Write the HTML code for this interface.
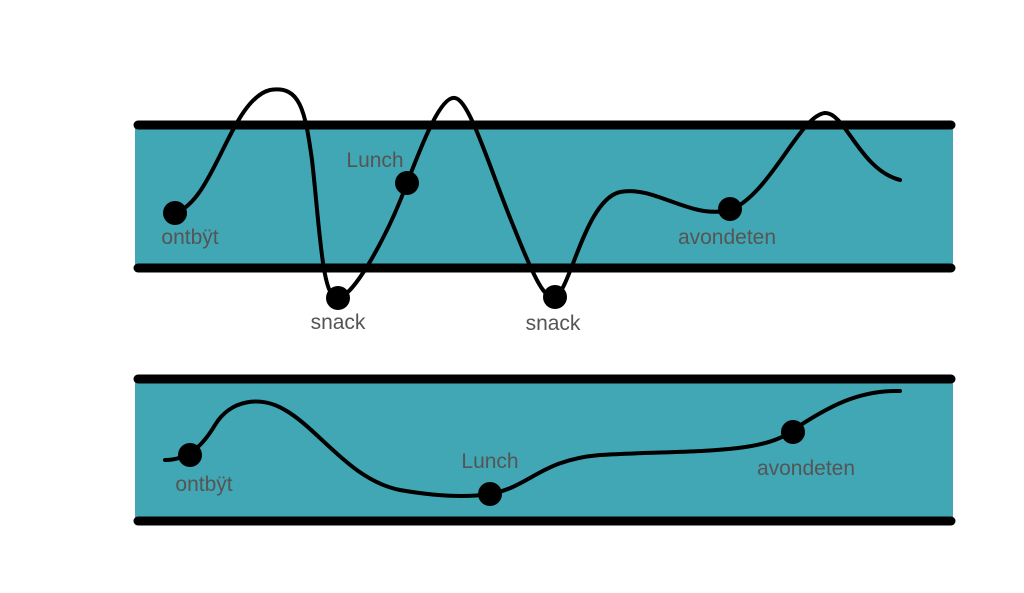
<!DOCTYPE html>
<html><head><meta charset="utf-8"><style>
html,body{margin:0;padding:0;background:#fff;width:1024px;height:593px;overflow:hidden}
svg text{font-family:"Liberation Sans",sans-serif;font-size:21px;fill:#555;text-anchor:middle}
</style></head><body>
<svg width="1024" height="593" viewBox="0 0 1024 593">
<rect x="135" y="128" width="818" height="140" fill="#41a7b4"/>
<rect x="135" y="382" width="818" height="138" fill="#41a7b4"/>
<g stroke="#000" stroke-width="9" stroke-linecap="round">
<line x1="138" y1="125" x2="951" y2="125"/>
<line x1="138" y1="268" x2="951" y2="268"/>
<line x1="138" y1="379" x2="951" y2="379"/>
<line x1="138" y1="521" x2="951" y2="521"/>
</g>
<g fill="none" stroke="#000" stroke-width="4" stroke-linecap="round" stroke-linejoin="round">
<path d="M175,213 C215,200 230,100 270,90 C300,85 305,110 312,160 C320,230 322,300 338,298 C355,296 390,230 407,183 C420,150 440,95 455,98 C470,100 490,170 515,230 C535,280 545,300 555,297 C570,292 585,200 620,192 C655,185 690,220 730,210 C770,195 800,115 825,113 C845,112 860,170 900,180"/>
<path d="M165,460 C185,460 200,450 215,425 C230,400 260,395 285,410 C320,430 350,480 400,490 C440,497 470,497 490,494 C530,487 540,460 600,455 C680,450 760,455 790,432 C830,405 860,390 900,391"/>
</g>
<g fill="#000">
<circle cx="175" cy="213" r="12"/><circle cx="338" cy="298" r="12"/><circle cx="407" cy="183" r="12"/>
<circle cx="555" cy="297" r="12"/><circle cx="730" cy="209" r="12"/>
<circle cx="190" cy="455" r="12"/><circle cx="490" cy="494" r="12"/><circle cx="793" cy="432" r="12"/>
</g>
<text x="190" y="244">ontbÿt</text>
<text x="375" y="167">Lunch</text>
<text x="338" y="329">snack</text>
<text x="553" y="330">snack</text>
<text x="727" y="244">avondeten</text>
<text x="204" y="491">ontbÿt</text>
<text x="490" y="468">Lunch</text>
<text x="806" y="475">avondeten</text>
</svg>
</body></html>
